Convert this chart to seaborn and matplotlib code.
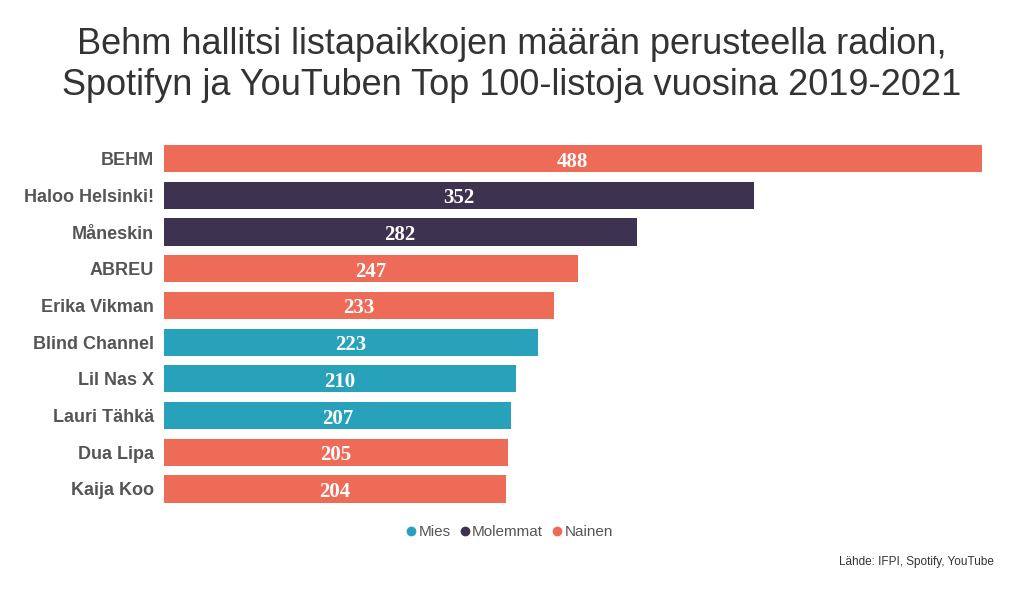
import matplotlib
matplotlib.use("Agg")
import matplotlib.pyplot as plt
from matplotlib.lines import Line2D
import seaborn as sns
import pandas as pd

# data
artists = ['BEHM', 'Haloo Helsinki!', 'Måneskin', 'ABREU', 'Erika Vikman',
           'Blind Channel', 'Lil Nas X', 'Lauri Tähkä', 'Dua Lipa', 'Kaija Koo']
counts = [488, 352, 282, 247, 233, 223, 210, 207, 205, 204]
groups = ['Nainen', 'Molemmat', 'Molemmat', 'Nainen', 'Nainen',
          'Mies', 'Mies', 'Mies', 'Nainen', 'Nainen']
legend_order = ['Mies', 'Molemmat', 'Nainen']
colors = {'Mies': '#27A2BA', 'Molemmat': '#3D3350', 'Nainen': '#EE6B58'}

df = pd.DataFrame({'artist': artists, 'count': counts, 'group': groups})

sns.set_style("white")
plt.rcParams['font.family'] = ['Liberation Sans', 'DejaVu Sans']

fig = plt.figure(figsize=(10.24, 5.92), dpi=100)
ax = fig.add_axes([0.160, 0.143, 0.799, 0.620])

sns.barplot(data=df, x='count', y='artist', hue='group', palette=colors,
            dodge=False, width=0.74, legend=False, saturation=1,
            linewidth=0, ax=ax)

# value labels in the middle of each bar
for i, v in enumerate(counts):
    ax.text(v / 2, i + 0.08, str(v), ha='center', va='center', color='white',
            fontsize=15, fontweight='bold',
            family=['Liberation Serif', 'DejaVu Serif'])

ax.set_xlim(0, 488)
ax.set_xlabel('')
ax.set_ylabel('')
ax.set_xticks([])
sns.despine(ax=ax, left=True, bottom=True)
ax.tick_params(axis='y', length=0, pad=7)
for lbl in ax.get_yticklabels():
    lbl.set_fontsize(13)
    lbl.set_fontweight('bold')
    lbl.set_color('#555555')

fig.text(0.5, 0.890, 'Behm hallitsi listapaikkojen määrän perusteella radion,\n'
         'Spotifyn ja YouTuben Top 100-listoja vuosina 2019-2021',
         ha='center', va='center', fontsize=26, color='#333333', linespacing=1.2)

handles = [Line2D([0], [0], marker='o', linestyle='', markersize=6,
                  markerfacecolor=colors[g], markeredgecolor=colors[g], label=g)
           for g in legend_order]
fig.legend(handles=handles, loc='center', bbox_to_anchor=(0.497, 0.101),
           ncol=3, frameon=False, fontsize=11, handletextpad=0.1,
           handlelength=0.8, columnspacing=0.5, labelcolor='#555555')

fig.text(0.971, 0.051, 'Lähde: IFPI, Spotify, YouTube', ha='right', va='center',
         fontsize=8.5, color='#333333')

fig.savefig('out.png', dpi=100, facecolor='white')
